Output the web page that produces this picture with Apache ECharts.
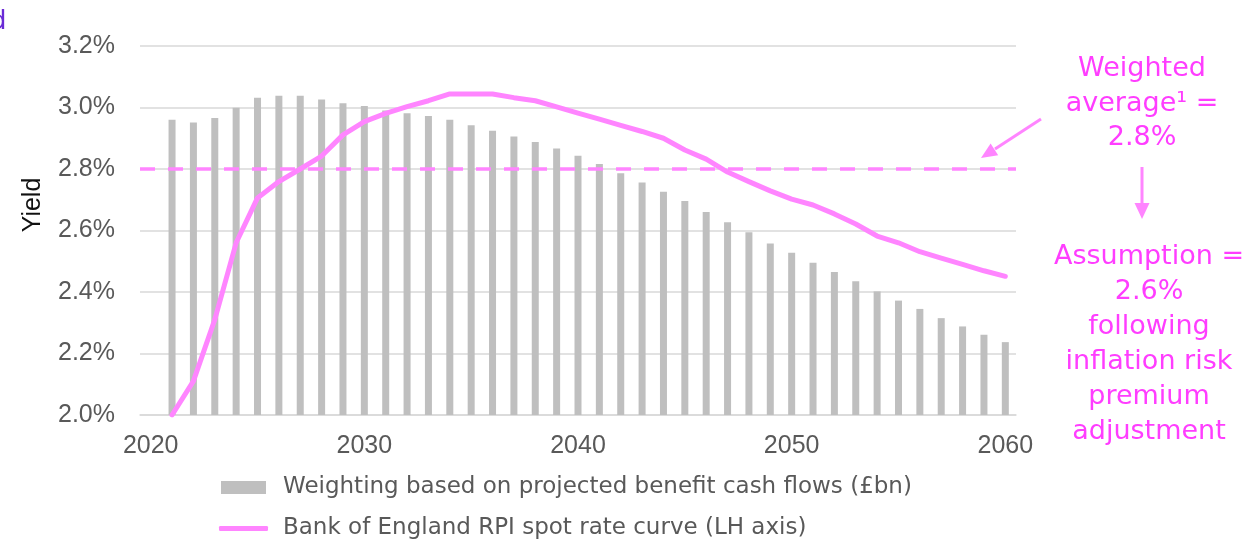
<!DOCTYPE html>
<html>
<head>
<meta charset="utf-8">
<script src="https://cdn.jsdelivr.net/npm/echarts@6/dist/echarts.min.js"></script>
<style>
  html, body { margin: 0; padding: 0; background: #ffffff; }
  #chart { width: 1247px; height: 542px; }
</style>
</head>
<body>
<div id="chart"></div>
<script>
// Years on the category axis (one band per year, labels every decade)
const years = [];
for (let y = 2020; y <= 2060; y++) years.push(String(y));

// Yield axis ticks (%)
const yieldMin = 2.0, yieldMax = 3.2, yieldStep = 0.2;

// Projected benefit cash flow weighting (£bn), 2020..2060
const weighting = [null,
  3.20, 3.17, 3.22, 3.33, 3.44, 3.46, 3.46, 3.42, 3.38, 3.35,
  3.30, 3.27, 3.24, 3.20, 3.14, 3.08, 3.02, 2.96, 2.89, 2.81,
  2.72, 2.62, 2.52, 2.42, 2.32, 2.20, 2.09, 1.98, 1.86, 1.76,
  1.65, 1.55, 1.45, 1.34, 1.24, 1.15, 1.05, 0.96, 0.87, 0.79];

// Bank of England RPI spot rate curve (%), 2020..2060
const spotRate = [null,
  2.00, 2.11, 2.31, 2.56, 2.706, 2.759, 2.80, 2.842, 2.911, 2.954,
  2.981, 3.003, 3.022, 3.044, 3.044, 3.044, 3.032, 3.022, 3.002, 2.982,
  2.962, 2.942, 2.922, 2.900, 2.862, 2.832, 2.790, 2.759, 2.729, 2.702,
  2.683, 2.654, 2.621, 2.582, 2.560, 2.531, 2.510, 2.490, 2.469, 2.451];

// Weighted average of the spot curve (%)
const weightedAverage = 2.8;

const barName = 'Weighting based on projected benefit cash flows (£bn)';
const lineName = 'Bank of England RPI spot rate curve (LH axis)';

const pink = '#ff85ff';
const magentaText = '#ff3dff';
const grey = '#595959';
const axisFont = 'Liberation Sans, Arial, sans-serif';
const bodyFont = 'DejaVu Sans, sans-serif';

const chart = echarts.init(document.getElementById('chart'), null, { renderer: 'canvas' });

chart.setOption({
  animation: false,
  backgroundColor: '#ffffff',
  grid: { left: 140, right: 231, top: 46, bottom: 127, containLabel: false },
  xAxis: {
    type: 'category',
    data: years,
    boundaryGap: true,
    axisLine: { show: true, lineStyle: { color: '#d9d9d9', width: 1.5 } },
    axisTick: { show: false },
    axisLabel: {
      interval: 0,
      formatter: v => (Number(v) % 10 === 0 ? v : ''),
      color: grey, fontFamily: axisFont, fontSize: 25, margin: 19
    },
    splitLine: { show: false }
  },
  yAxis: [{
    type: 'value',
    min: yieldMin, max: yieldMax, interval: yieldStep,
    axisLine: { show: false },
    axisTick: { show: false },
    axisLabel: {
      formatter: v => v.toFixed(1) + '%',
      color: grey, fontFamily: axisFont, fontSize: 25, margin: 25
    },
    splitLine: { show: true, lineStyle: { color: '#d9d9d9', width: 1.5 } }
  }, {
    type: 'value',
    min: 0, max: 4,
    show: false,
    splitLine: { show: false }
  }],
  legend: [{
    data: [{ name: barName, icon: 'rect' }],
    left: 221, top: 476, padding: 0,
    itemWidth: 45, itemHeight: 13,
    textStyle: { color: grey, fontFamily: bodyFont, fontSize: 23, padding: [0, 0, 0, 12] },
    selectedMode: false
  }, {
    data: [{ name: lineName, icon: 'roundRect', itemStyle: { color: pink } }],
    left: 219, top: 517, padding: 0,
    itemWidth: 49, itemHeight: 5,
    itemStyle: { color: pink },
    textStyle: { color: grey, fontFamily: bodyFont, fontSize: 23, padding: [0, 0, 0, 10] },
    selectedMode: false
  }],
  series: [{
    name: barName,
    type: 'bar',
    yAxisIndex: 1,
    data: weighting,
    barWidth: 7,
    itemStyle: { color: '#bfbfbf' },
    z: 2
  }, {
    name: lineName,
    type: 'line',
    yAxisIndex: 0,
    data: spotRate,
    symbol: 'none',
    smooth: false,
    lineStyle: { color: pink, width: 5, cap: 'round', join: 'round' },
    itemStyle: { color: pink },
    z: 4,
    markLine: {
      silent: true,
      symbol: 'none',
      label: { show: false },
      lineStyle: { color: pink, width: 3.5, type: [15, 13] },
      data: [{ yAxis: weightedAverage }]
    }
  }],
  graphic: [
    // clipped heading glyph at the top-left edge
    { type: 'text', left: -10, top: 9,
      style: { text: 'd', font: '26px ' + bodyFont, fill: '#6a2bd6' } },
    // y-axis title
    { type: 'text', x: 33, y: 205, rotation: Math.PI / 2,
      style: { text: 'Yield', font: '25px ' + axisFont, fill: '#111111',
               align: 'center', verticalAlign: 'middle' } },
    // weighted average callout
    { type: 'text', x: 1142, y: 52,
      style: { text: 'Weighted\naverage¹ =\n2.8%', font: '27px ' + bodyFont, fill: magentaText,
               align: 'center', verticalAlign: 'top', lineHeight: 34.5 } },
    // assumption callout
    { type: 'text', x: 1149, y: 239,
      style: { text: 'Assumption =\n2.6%\nfollowing\ninflation risk\npremium\nadjustment',
               font: '27px ' + bodyFont, fill: magentaText,
               align: 'center', verticalAlign: 'top', lineHeight: 35 } },
    // arrow to the dashed line
    { type: 'line', shape: { x1: 1041, y1: 119, x2: 995, y2: 149 },
      style: { stroke: pink, lineWidth: 3 } },
    { type: 'polygon', shape: { points: [[981, 158], [998.2, 155.2], [990.6, 143.4]] },
      style: { fill: pink } },
    // arrow down to the assumption
    { type: 'line', shape: { x1: 1142, y1: 167, x2: 1142, y2: 205 },
      style: { stroke: pink, lineWidth: 3 } },
    { type: 'polygon', shape: { points: [[1142, 219], [1134.5, 203], [1149.5, 203]] },
      style: { fill: pink } }
  ]
});
</script>
</body>
</html>
